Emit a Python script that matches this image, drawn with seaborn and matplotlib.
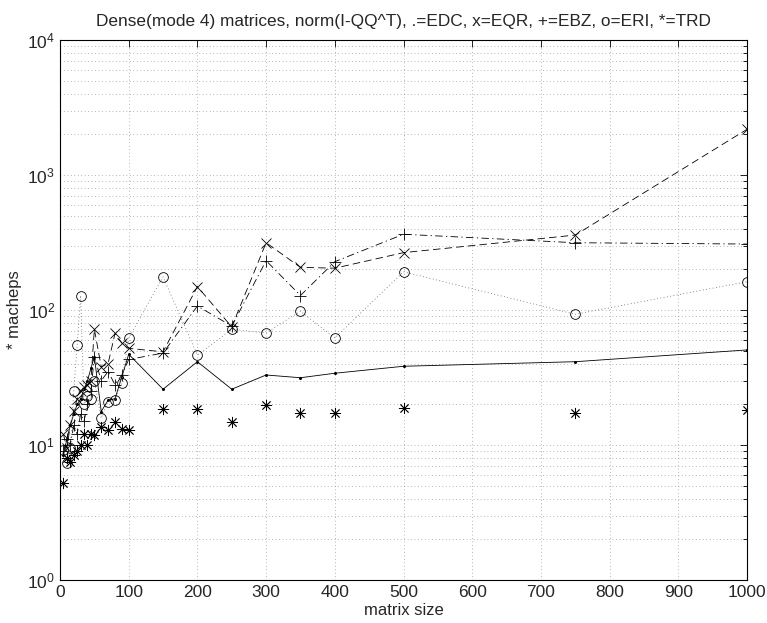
import numpy as np
import pandas as pd
import matplotlib
matplotlib.use("Agg")
import matplotlib.pyplot as plt
import seaborn as sns
from matplotlib.ticker import LogLocator, FixedLocator

sizes = [5, 10, 15, 20, 25, 30, 35, 40, 45, 50, 60, 70, 80, 90, 100,
         150, 200, 250, 300, 350, 400, 500, 750, 1000]
edc = [8.5, 11, 14, 17, 20, 22, 26, 30, 37, 45, 17.7, 21.5, 22, 32, 47,
       25.9, 41.4, 25.9, 33, 31.5, 34, 38.3, 41.4, 50.6]
eqr = [12, 9.5, 14, 18, 22, 25, 27, 28, 30, 72, 38, 40, 67, 57, 52,
       49, 149, 75, 315, 207, 204, 266, 359, 2180]
ebz = [9, 11, 10, 14, 12, 17, 15, 20, 25, 45, 30, 35, 28, 33, 43,
       48, 107, 76, 232, 128, 228, 364, 315, 308]
eri = [9.2, 7.3, 9.5, 25, 55, 128, 20, 23, 22, 30, 15.8, 21, 21.5, 29, 62,
       176, 46.4, 72, 67.6, 98, 62, 192, 93, 162]
trd = [5.2, 8, 7.5, 8.5, 9, 10, 12, 10, 12, 11.9, 13.7, 12.9, 14.9, 13.1, 12.9,
       18.4, 18.5, 14.8, 19.8, 17.3, 17.3, 18.9, 17.2, 18.2]

title = "Dense(mode 4) matrices, norm(I-QQ^T), .=EDC, x=EQR, +=EBZ, o=ERI, *=TRD"

sns.set_style("white")
plt.rcParams["font.family"] = ["Liberation Sans", "DejaVu Sans"]
plt.rcParams["mathtext.default"] = "regular"
plt.rcParams["font.size"] = 12

df = pd.DataFrame({"n": sizes, "EDC": edc, "EQR": eqr, "EBZ": ebz, "ERI": eri, "TRD": trd})

fig = plt.figure(figsize=(7.67, 6.23), dpi=100)
ax = fig.add_axes([60/767, 43/623, 687/767, 540/623])

lw = 0.6
sns.lineplot(data=df, x="n", y="EDC", ax=ax, color="k", lw=lw, linestyle="-",
             marker="o", markersize=2.2, markeredgewidth=0, estimator=None, sort=False)
sns.lineplot(data=df, x="n", y="EQR", ax=ax, color="k", lw=lw, dashes=False,
             marker="x", markersize=7, markeredgewidth=0.6, markeredgecolor="k",
             estimator=None, sort=False)
ax.lines[-1].set_linestyle((0, (9, 5)))
sns.lineplot(data=df, x="n", y="EBZ", ax=ax, color="k", lw=lw,
             marker="+", markersize=8, markeredgewidth=0.6, markeredgecolor="k",
             estimator=None, sort=False)
ax.lines[-1].set_linestyle((0, (9, 4, 1.5, 4)))
sns.lineplot(data=df, x="n", y="ERI", ax=ax, color="k", lw=lw,
             marker="o", markersize=7, markeredgewidth=0.6, markeredgecolor="k",
             markerfacecolor="none", estimator=None, sort=False)
ax.lines[-1].set_linestyle((0, (1, 3)))
ax.lines[-1].set_color("0.4")
ax.lines[-1].set_markeredgecolor("k")
sns.lineplot(data=df, x="n", y="TRD", ax=ax, color="k", lw=0, linestyle="none",
             marker=(8, 2, 0), markersize=8, markeredgewidth=0.6, markeredgecolor="k",
             estimator=None, sort=False)

ax.set_yscale("log")
ax.set_xlim(0, 1000)
ax.set_ylim(1, 1e4)
ax.xaxis.set_major_locator(FixedLocator(np.arange(0, 1001, 100)))
ax.yaxis.set_major_locator(LogLocator(base=10, numticks=10))
ax.yaxis.set_minor_locator(LogLocator(base=10, subs=np.arange(2, 10), numticks=20))

ax.grid(True, which="major", axis="both", color="0.45", linestyle=(0, (1, 4)), lw=0.5)
ax.grid(True, which="minor", axis="y", color="0.45", linestyle=(0, (1, 4)), lw=0.5)

for s in ax.spines.values():
    s.set_color("k")
    s.set_linewidth(0.8)
ax.tick_params(which="both", direction="in", top=True, right=True, color="k", width=0.6)
ax.tick_params(which="major", length=5, labelsize=12.5, pad=3.5)
ax.tick_params(which="minor", length=3)

ax.set_xlabel("matrix size", fontsize=12, labelpad=2)
ax.set_ylabel("* macheps", fontsize=12, labelpad=4)
ax.set_title(title, fontsize=12.4, pad=10)

fig.savefig("out.png", dpi=100)
